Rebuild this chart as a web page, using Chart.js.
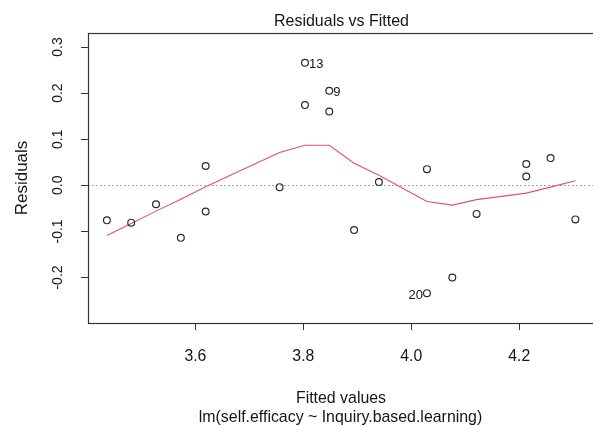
<!DOCTYPE html>
<html>
<head>
<meta charset="utf-8">
<script src="https://cdn.jsdelivr.net/npm/chart.js@4"></script>
<style>
  html, body { margin: 0; padding: 0; background: #fff; overflow: hidden; }
  canvas { display: block; }
</style>
</head>
<body>
<canvas id="chart" width="600" height="426"></canvas>
<script>
// Data
const fitted = [3.436, 3.481, 3.527, 3.573, 3.619, 3.619, 3.756, 3.803, 3.803, 3.848, 3.848,
                3.894, 3.940, 4.029, 4.029, 4.076, 4.121, 4.213, 4.213, 4.258, 4.304];
const residuals = [-0.076, -0.081, -0.041, -0.114, 0.042, -0.057, -0.004, 0.266, 0.174, 0.205, 0.160,
                   -0.097, 0.007, 0.035, -0.234, -0.200, -0.062, 0.046, 0.019, 0.059, -0.074];

// lowess smoother (red line)
const smoothX = [3.436, 3.481, 3.527, 3.573, 3.619, 3.756, 3.803, 3.848, 3.894, 3.940,
                 4.029, 4.076, 4.121, 4.213, 4.258, 4.304];
const smoothY = [-0.109, -0.083, -0.056, -0.030, -0.003, 0.071, 0.087, 0.087, 0.048, 0.022,
                 -0.035, -0.043, -0.031, -0.017, -0.004, 0.010];

// labelled observations
const idIndex = [7, 9, 14];
const idText = ['13', '9', '20'];

const xTicks = [3.6, 3.8, 4.0, 4.2];
const yTicks = [-0.2, -0.1, 0.0, 0.1, 0.2, 0.3];

const titleText = 'Residuals vs Fitted';
const xTitle = 'Fitted values';
const subTitle = 'lm(self.efficacy ~ Inquiry.based.learning)';
const yTitle = 'Residuals';

const FONT = '"Liberation Sans", Arial, sans-serif';

// text helper: R output here is a little condensed sideways
function label(ctx, text, x, y, size, opts = {}) {
  ctx.save();
  ctx.translate(x, y);
  if (opts.rotate) ctx.rotate(-Math.PI / 2);
  ctx.scale(opts.sx || 1, 1);
  ctx.font = size + 'px ' + FONT;
  ctx.textAlign = opts.align || 'center';
  ctx.textBaseline = 'alphabetic';
  ctx.fillText(text, 0, 0);
  ctx.restore();
}

// Frame, zero line and all the R-style text
const rPlot = {
  id: 'rPlot',
  beforeDatasetsDraw(chart) {
    const { ctx, chartArea: a, scales: { y } } = chart;
    const y0 = Math.round(y.getPixelForValue(0)) + 0.5;
    ctx.save();
    ctx.strokeStyle = '#a8a8a8';
    ctx.lineWidth = 1;
    ctx.setLineDash([2, 2]);
    ctx.beginPath();
    ctx.moveTo(a.left, y0);
    ctx.lineTo(a.right, y0);
    ctx.stroke();
    ctx.restore();
  },
  afterDraw(chart) {
    const { ctx, chartArea: a, scales: { x, y } } = chart;
    ctx.save();
    // box
    ctx.strokeStyle = '#333';
    ctx.lineWidth = 1.2;
    ctx.strokeRect(a.left + 0.5, a.top + 0.5, a.right - a.left, a.bottom - a.top);

    ctx.fillStyle = '#151515';

    // x tick labels
    xTicks.forEach(v => label(ctx, v.toFixed(1), x.getPixelForValue(v), 360.5, 17, { sx: 0.93 }));

    // y tick labels (rotated, as in R)
    yTicks.forEach(v => label(ctx, v.toFixed(1), 61.5, y.getPixelForValue(v), 14, { rotate: true }));

    // titles
    label(ctx, titleText, 341.5, 26, 17, { sx: 0.94 });
    label(ctx, xTitle, 341, 402.5, 17, { sx: 0.935 });
    label(ctx, subTitle, 340.5, 421.5, 17, { sx: 0.935 });
    label(ctx, yTitle, 27, (a.top + a.bottom) / 2, 17, { rotate: true });

    // point ids
    idIndex.forEach((i, k) => {
      const px = x.getPixelForValue(fitted[i]);
      const py = y.getPixelForValue(residuals[i]);
      if (residuals[i] < 0) {
        label(ctx, idText[k], px - 4, py + 6, 13, { align: 'right' });
      } else {
        label(ctx, idText[k], px + 4, py + 5.5, 13, { align: 'left' });
      }
    });
    ctx.restore();
  }
};

const tickGrid = {
  display: true,
  drawOnChartArea: false,
  drawTicks: true,
  tickLength: 7,
  color: '#333',
  lineWidth: 1
};

new Chart(document.getElementById('chart').getContext('2d'), {
  type: 'scatter',
  data: {
    datasets: [
      {
        label: 'Residuals',
        data: fitted.map((v, i) => ({ x: v, y: residuals[i] })),
        pointStyle: 'circle',
        pointRadius: 3.4,
        borderColor: '#2a2a2a',
        backgroundColor: 'rgba(0,0,0,0)',
        borderWidth: 1.2,
        showLine: false
      },
      {
        label: 'lowess',
        data: smoothX.map((v, i) => ({ x: v, y: smoothY[i] })),
        showLine: true,
        pointRadius: 0,
        borderColor: '#DF536B',
        borderWidth: 1.1,
        tension: 0,
        fill: false
      }
    ]
  },
  options: {
    responsive: false,
    animation: false,
    layout: { padding: { top: 33, right: 5, left: 0, bottom: 0 } },
    plugins: {
      legend: { display: false },
      tooltip: { enabled: false },
      title: { display: false }
    },
    scales: {
      x: {
        type: 'linear',
        min: 3.401,
        max: 4.340,
        grid: tickGrid,
        border: { display: false },
        ticks: { display: false },
        afterBuildTicks: s => { s.ticks = xTicks.map(v => ({ value: v })); },
        afterFit: s => { s.height = 103; }
      },
      y: {
        type: 'linear',
        min: -0.2987,
        max: 0.3304,
        grid: tickGrid,
        border: { display: false },
        ticks: { display: false },
        afterBuildTicks: s => { s.ticks = yTicks.map(v => ({ value: v })); },
        afterFit: s => { s.width = 88; }
      }
    }
  },
  plugins: [rPlot]
});
</script>
</body>
</html>
